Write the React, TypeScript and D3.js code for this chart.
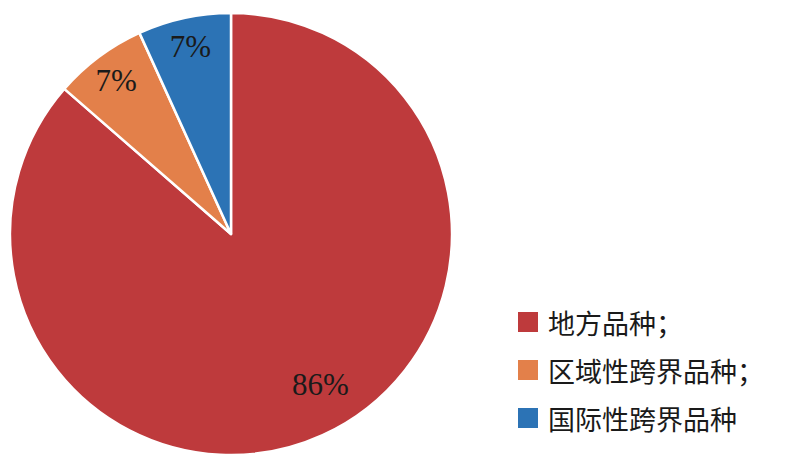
import { useEffect, useRef } from 'react';
import * as d3 from 'd3';

const categories = ['地方品种；', '区域性跨界品种；', '国际性跨界品种'];
const values = [86.4, 6.8, 6.8];
const colors = ['#be3a3c', '#e3804a', '#2c73b5'];

export default function App() {
  const ref = useRef<SVGSVGElement>(null);

  useEffect(() => {
    const width = 799;
    const height = 462;
    const svg = d3.select(ref.current);
    svg.selectAll('*').remove();

    const cx = 231;
    const cy = 234;
    const radius = 221;

    const pie = d3
      .pie<number>()
      .sort(null)
      .value((d) => d);
    const arcs = pie(values);

    const arc = d3.arc<d3.PieArcDatum<number>>().innerRadius(0).outerRadius(radius);

    const root = svg.append('g').attr('transform', `translate(${cx},${cy})`);

    root
      .selectAll('path')
      .data(arcs)
      .join('path')
      .attr('d', arc)
      .attr('fill', (_, i) => colors[i])
      .attr('stroke', '#fff')
      .attr('stroke-width', 2.5)
      .attr('stroke-linejoin', 'round');

    // big slice label sits a bit before its middle (best fit), small ones near the rim
    const labelPos = (d: d3.PieArcDatum<number>) => {
      const big = d.index === 0;
      const a = d.startAngle + (d.endAngle - d.startAngle) * (big ? 0.48 : 0.5);
      const r = big ? 175 : 192;
      return [Math.sin(a) * r, -Math.cos(a) * r];
    };

    root
      .selectAll('.pie-label')
      .data(arcs)
      .join('text')
      .attr('class', 'pie-label')
      .attr('transform', (d) => {
        const [x, y] = labelPos(d);
        return `translate(${x},${y})`;
      })
      .attr('text-anchor', 'middle')
      .attr('dominant-baseline', 'central')
      .attr('font-family', '"Liberation Serif", "Times New Roman", serif')
      .attr('font-size', 31)
      .attr('fill', '#1a1a1a')
      .text((d) => `${Math.round(d.data)}%`);

    const legend = svg.append('g').attr('transform', 'translate(518,322)');
    const row = legend
      .selectAll('g')
      .data(categories)
      .join('g')
      .attr('transform', (_, i) => `translate(0,${i * 48})`);

    row
      .append('rect')
      .attr('x', 0)
      .attr('y', -10)
      .attr('width', 20)
      .attr('height', 20)
      .attr('fill', (_, i) => colors[i]);

    row
      .append('text')
      .attr('x', 30)
      .attr('y', 0)
      .attr('dominant-baseline', 'central')
      .attr('font-family', '"Noto Sans CJK SC", sans-serif')
      .attr('font-size', 27)
      .attr('fill', '#1a1a1a')
      .text((d) => d);

    svg.attr('viewBox', `0 0 ${width} ${height}`);
  }, []);

  return (
    <svg
      ref={ref}
      width={799}
      height={462}
      style={{ position: 'absolute', left: 0, top: 0, background: '#fff' }}
    />
  );
}
